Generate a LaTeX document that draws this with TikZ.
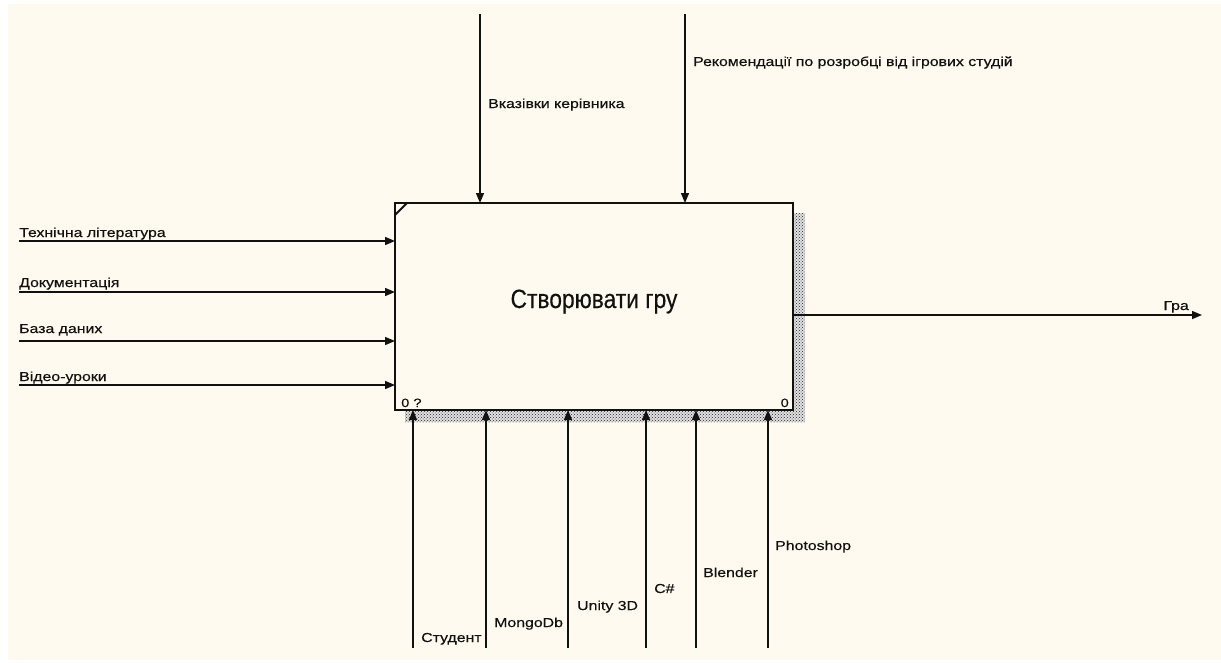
\documentclass[tikz,border=0pt]{standalone}
\usepackage{fontspec}
\setmainfont{Liberation Sans}
\newfontfamily\lblfont[FakeStretch=1.22,FakeBold=0.35]{Liberation Sans}
\newfontfamily\titlefont[FakeStretch=0.86,FakeBold=0.3]{Liberation Sans}
\usetikzlibrary{arrows.meta,patterns}
\definecolor{paper}{HTML}{FFFAF0}
\definecolor{ink}{HTML}{111111}
\tikzset{
  flow/.style={line width=1.4pt, draw=ink, -{Triangle[length=10pt,width=8pt]}},
  lbl/.style={font=\lblfont\fontsize{13}{15}\selectfont, text=ink, inner sep=0pt, anchor=base west},
  activity/.style={draw=ink, line width=2.6pt, fill=paper, minimum width=398pt,
    minimum height=207pt, inner sep=0pt, outer sep=0pt},
  shade/.style={pattern=crosshatch dots, pattern color=black!85},
  num/.style={font=\lblfont\fontsize{12}{14}\selectfont, text=ink, inner sep=0pt}
}
\begin{document}
\begin{tikzpicture}[x=1pt,y=-1pt]
  \useasboundingbox (0,0) rectangle (1221,662);
  \fill[white] (0,0) rectangle (1221,662);
  \fill[paper] (8,4) rectangle (1221,660);

  % shadow of the activity box
  \fill[black!12] (405,213) rectangle (805,422);
  \fill[shade] (405,213) rectangle (805,422);

  % the activity
  \node[activity] (act) at (594,306.5) {};
  \node[font=\titlefont\fontsize{26.5}{30}\selectfont, text=ink, anchor=base] (title)
    at (594,308) {Створювати гру};
  \draw[ink, line width=1.8pt] ([yshift=-12pt]act.north west) -- ([xshift=12pt]act.north west);
  \node[num, anchor=base west] (nodeid) at (401,407) {0 ?};
  \node[num, anchor=base east] (cost) at (789,407) {0};

  % inputs
  \coordinate (in1) at (19,241);
  \coordinate (in2) at (19,292);
  \coordinate (in3) at (19,341);
  \coordinate (in4) at (19,385);
  \foreach \c in {in1,in2,in3,in4} \draw[flow] (\c) -- (\c -| act.west);
  \node[lbl] (lin1) at (19,237) {Технічна література};
  \node[lbl] (lin2) at (19,287) {Документація};
  \node[lbl] (lin3) at (19,333) {База даних};
  \node[lbl] (lin4) at (19,381) {Відео-уроки};

  % controls
  \coordinate (c1) at (480,14);
  \coordinate (c2) at (685,14);
  \foreach \c in {c1,c2} \draw[flow] (\c) -- (\c |- act.north);
  \node[lbl] (lc1) at (488,108) {Вказівки керівника};
  \node[lbl] (lc2) at (693,66) {Рекомендації по розробці від ігрових студій};

  % output
  \coordinate (out) at (1202,315);
  \draw[flow] (act.east |- out) -- (out);
  \node[lbl, anchor=base east] (lout) at (1189,310) {Гра};

  % mechanisms
  \coordinate (m1) at (413,648);
  \coordinate (m2) at (486,648);
  \coordinate (m3) at (568,648);
  \coordinate (m4) at (646,648);
  \coordinate (m5) at (696,648);
  \coordinate (m6) at (768,648);
  \foreach \c in {m1,m2,m3,m4,m5,m6} \draw[flow] (\c) -- (\c |- act.south);
  \node[lbl] (lm1) at (421,642) {Студент};
  \node[lbl] (lm2) at (494,627) {MongoDb};
  \node[lbl] (lm3) at (577,610) {Unity 3D};
  \node[lbl] (lm4) at (654,593) {C\#};
  \node[lbl] (lm5) at (703,577) {Blender};
  \node[lbl] (lm6) at (775,550) {Photoshop};
\end{tikzpicture}
\end{document}
